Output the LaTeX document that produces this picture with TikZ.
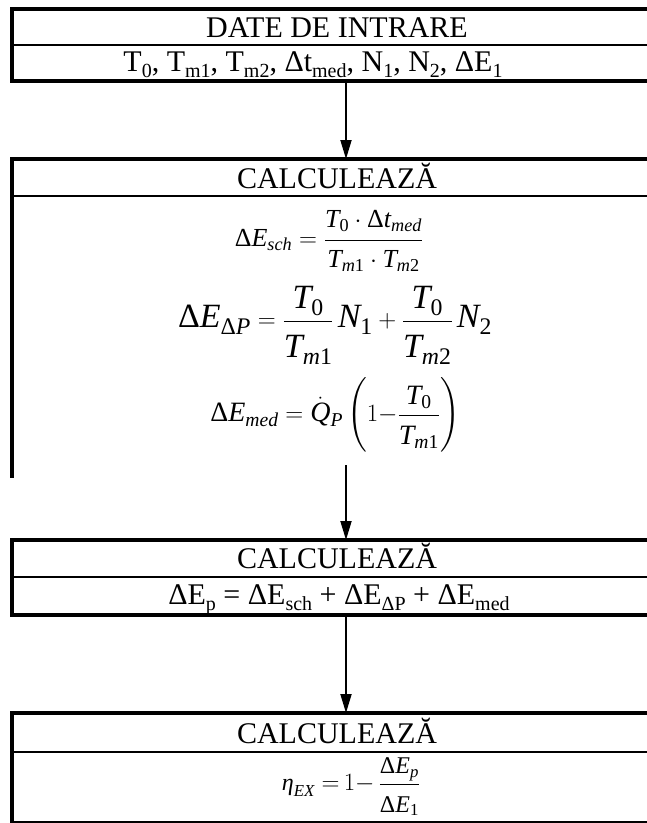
\documentclass[tikz,border=0pt]{standalone}
\usepackage{amsmath}
\usepackage{fontspec}
\setmainfont{Liberation Serif}
\usetikzlibrary{arrows.meta}
\newcommand{\vI}[1]{\textit{#1}}
\newcommand{\vR}[1]{\textup{#1}}
\newcommand{\Dl}{\textup{Δ}}
\newcommand{\lowsub}[1]{\raisebox{-0.2em}{\fontsize{20}{20}\selectfont #1}}
% spacing struts inside fractions
\newcommand{\numgap}[1]{\rule[-#1]{0pt}{#1}}
\newcommand{\dengap}[1]{\rule{0pt}{#1}}
\begin{document}
\begin{tikzpicture}[x=1pt,y=-1pt,
  frame/.style={line width=4.5pt,line join=miter},
  sepline/.style={line width=2pt},
  flow/.style={line width=1.8pt,-{Triangle[length=19pt,width=11pt]}},
  lbl/.style={inner sep=0pt,anchor=base,font=\fontsize{30}{34}\selectfont},
  eqn/.style={inner sep=0pt,font=\fontsize{26}{30}\selectfont},
  eqmed/.style={inner sep=0pt,font=\fontsize{28}{32}\selectfont},
  eqsm/.style={inner sep=0pt,font=\fontsize{24}{28}\selectfont},
  eqbig/.style={inner sep=0pt,font=\fontsize{34}{38}\selectfont}]
\useasboundingbox (0,0) rectangle (647,823);

% ---- box 1
\draw[frame] (647,9) -- (12,9) -- (12,81) -- (647,81);
\draw[sepline] (12,45) -- (647,45);
\node[lbl] (t1) at (337,37) {DATE DE INTRARE};
\node[lbl] (d1) at (313,71) {T\lowsub{0}, T\lowsub{m1}, T\lowsub{m2}, Δt\lowsub{med}, N\lowsub{1}, N\lowsub{2}, ΔE\lowsub{1}};

% ---- box 2
\draw[frame] (647,159) -- (12,159) -- (12,478);
\draw[sepline] (12,196) -- (647,196);
\node[lbl] (t2) at (337,188) {CALCULEAZĂ};
\node[eqn] (f1) at (329,241) {$\displaystyle \Dl\vI{E}_{\vI{sch}} = \frac{\vI{T}_{\vR{0}}\cdot\Dl\vI{t}_{\vI{med}}\numgap{9pt}}{\dengap{24pt}\vI{T}_{\vI{m}\vR{1}}\cdot\vI{T}_{\vI{m}\vR{2}}}$};
\node[eqbig] (f2) at (335,325) {$\displaystyle \Dl\vI{E}_{\Dl\vI{P}} = \frac{\vI{T}_{\vR{0}}\numgap{10pt}}{\dengap{32pt}\vI{T}_{\vI{m}\vR{1}}}\,\vI{N}_{\vR{1}} + \frac{\vI{T}_{\vR{0}}\numgap{10pt}}{\dengap{32pt}\vI{T}_{\vI{m}\vR{2}}}\,\vI{N}_{\vR{2}}$};
\node[eqmed] (f3) at (335,415) {$\displaystyle \Dl\vI{E}_{\vI{med}} = \dot{\vI{Q}}_{\vI{P}}\left(1{-}\frac{\vI{T}_{\vR{0}}\numgap{6pt}}{\dengap{26pt}\vI{T}_{\vI{m}\vR{1}}}\right)$};

% ---- box 3
\draw[frame] (647,540) -- (12,540) -- (12,615) -- (647,615);
\draw[sepline] (12,577) -- (647,577);
\node[lbl] (t3) at (337,568) {CALCULEAZĂ};
\node[lbl] (d3) at (339,604) {ΔE\lowsub{p} = ΔE\lowsub{sch} + ΔE\lowsub{ΔP} + ΔE\lowsub{med}};

% ---- box 4
\draw[frame] (647,713) -- (12,713) -- (12,823);
\draw[sepline] (12,752) -- (647,752);
\draw[sepline] (12,822) -- (647,822);
\node[lbl] (t4) at (337,743) {CALCULEAZĂ};
\node[eqsm] (f4) at (351,787) {$\displaystyle \vI{η}_{\vI{EX}}\;{=}\,1{-}\,\frac{\Dl\vI{E}_{\vI{p}}\numgap{6pt}}{\dengap{24pt}\Dl\vI{E}_{\vR{1}}}$};

% ---- connectors
\coordinate (a1s) at (346,81);
\coordinate (a1e) at (346,159);
\coordinate (a2s) at (346,465);
\coordinate (a2e) at (346,540);
\coordinate (a3s) at (346,615);
\coordinate (a3e) at (346,713);
\draw[flow] (a1s) -- (a1e);
\draw[flow] (a2s) -- (a2e);
\draw[flow] (a3s) -- (a3e);
\end{tikzpicture}
\end{document}
